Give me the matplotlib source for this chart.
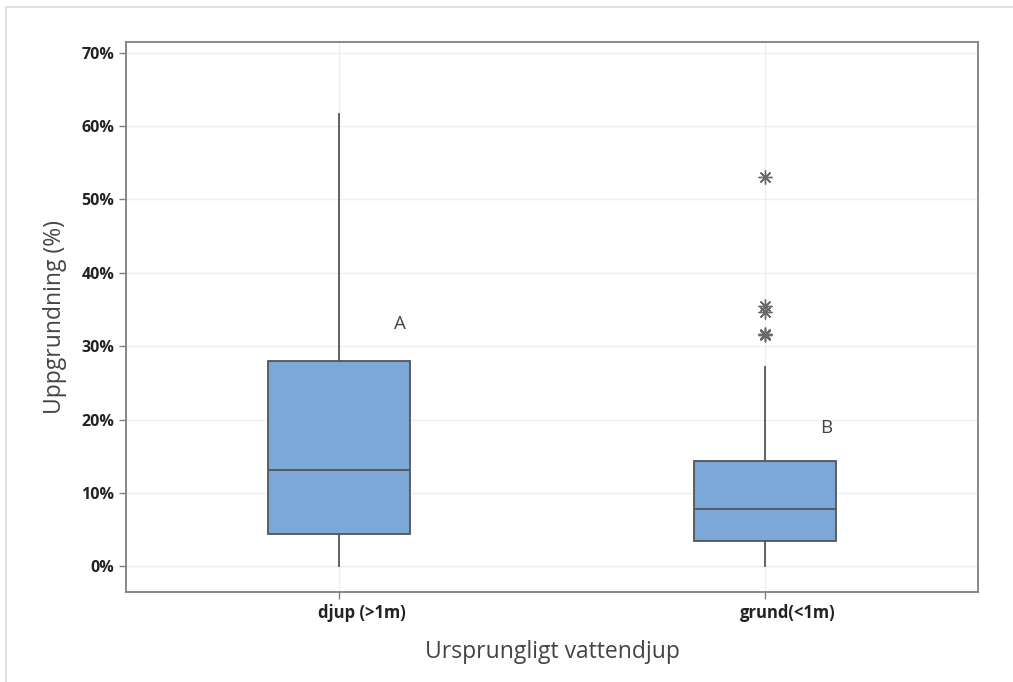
import matplotlib.pyplot as plt
from matplotlib.patches import Rectangle
from matplotlib.ticker import FuncFormatter
from matplotlib.transforms import ScaledTranslation

plt.rcParams['font.family'] = ['Open Sans', 'DejaVu Sans']

# Fem-punktssammanfattning per grupp (procent)
groups = ['djup (>1m)', 'grund(<1m)']
q1 = [4.4, 3.4]
median = [13.1, 7.8]
q3 = [28.0, 14.4]
whisker_low = [0.0, 0.0]
whisker_high = [61.6, 27.2]
outliers = [[], [53.1, 35.4, 34.7, 31.7, 31.5]]
letters = ['A', 'B']
letter_y = [33.0, 18.8]

fig = plt.figure(figsize=(10.13, 6.82), dpi=100)
ax = fig.add_axes([0.1245, 0.132, 0.841, 0.806])

# ljusgrå ram runt hela figuren
fig.patches.append(Rectangle((0.006, -0.01), 1.1, 1.0, transform=fig.transFigure,
                             fill=False, edgecolor='#dcdcdc', linewidth=1.2))

stats = []
for i in range(len(groups)):
    stats.append(dict(label=groups[i], q1=q1[i], med=median[i], q3=q3[i],
                      whislo=whisker_low[i], whishi=whisker_high[i], fliers=outliers[i]))

line_col = '#555555'
ax.bxp(stats, positions=[1, 2], widths=0.334, patch_artist=True, showcaps=False,
       boxprops=dict(facecolor='#7ba7d9', edgecolor=line_col, linewidth=1.3),
       medianprops=dict(color=line_col, linewidth=1.3),
       whiskerprops=dict(color=line_col, linewidth=1.3),
       flierprops=dict(marker=(8, 2, 0), markersize=10, markeredgecolor='#6a6a6a',
                       markerfacecolor='none', markeredgewidth=1.0, linestyle='none'),
       zorder=3)

for i, txt in enumerate(letters):
    ax.text(i + 1.13, letter_y[i], txt, fontsize=13.5, color='#444444', ha='left', va='center')

ax.set_xlim(0.5, 2.5)
ax.set_ylim(-3.5, 71.4)
ax.set_yticks(range(0, 71, 10))
ax.yaxis.set_major_formatter(FuncFormatter(lambda v, p: f'{v:.0f}%'))
ax.set_xticks([1, 2])
ax.set_xticklabels(groups)

ax.grid(True, color='#efefef', linewidth=1.0, zorder=0)
ax.set_axisbelow(True)
for s in ax.spines.values():
    s.set_color('#808080')
    s.set_linewidth(1.3)

ax.tick_params(axis='both', colors='#808080', length=5, width=1,
               labelcolor='#222222', labelsize=11)
for lbl in ax.get_yticklabels():
    lbl.set_fontweight('bold')
    lbl.set_fontsize(11.5)
# kategorietiketterna sitter lite till höger om sina streck
shift = ScaledTranslation(0.23, 0, fig.dpi_scale_trans)
for lbl in ax.get_xticklabels():
    lbl.set_fontweight('bold')
    lbl.set_fontsize(12)
    lbl.set_transform(lbl.get_transform() + shift)

ax.set_ylabel('Uppgrundning (%)', fontsize=16.5, color='#444444', labelpad=10)
ax.set_xlabel('Ursprungligt vattendjup', fontsize=16.5, color='#444444', labelpad=13)

fig.savefig('out.png', dpi=100)
